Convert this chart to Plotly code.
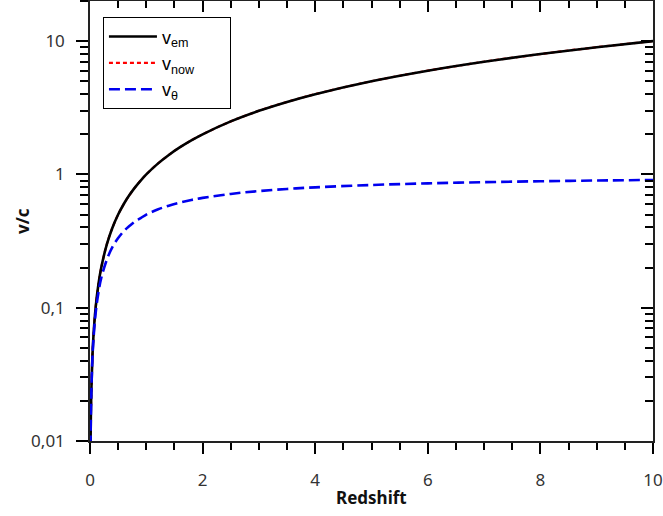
import plotly.graph_objects as go
import math

# Data
redshift = [0.003, 0.01, 0.02, 0.04, 0.06, 0.1, 0.15, 0.2, 0.3, 0.4, 0.5, 0.6, 0.7, 0.8, 0.9, 1.0, 1.2, 1.4, 1.6, 1.8, 2.0, 2.5, 3.0, 3.5, 4.0, 5.0, 6.0, 7.0, 8.0, 9.0, 10.0]
v_em = [0.003, 0.01, 0.02, 0.04, 0.06, 0.1, 0.15, 0.2, 0.3, 0.4, 0.5, 0.6, 0.7, 0.8, 0.9, 1.0, 1.2, 1.4, 1.6, 1.8, 2.0, 2.5, 3.0, 3.5, 4.0, 5.0, 6.0, 7.0, 8.0, 9.0, 10.0]
# v_now is not visible in the reference: it lies hidden beneath the v_em curve
v_now = [0.003, 0.01, 0.02, 0.04, 0.06, 0.1, 0.15, 0.2, 0.3, 0.4, 0.5, 0.6, 0.7, 0.8, 0.9, 1.0, 1.2, 1.4, 1.6, 1.8, 2.0, 2.5, 3.0, 3.5, 4.0, 5.0, 6.0, 7.0, 8.0, 9.0, 10.0]
v_theta = [0.003, 0.0099, 0.0196, 0.0385, 0.0566, 0.091, 0.13, 0.167, 0.23, 0.286, 0.333, 0.375, 0.41, 0.444, 0.47, 0.5, 0.545, 0.583, 0.615, 0.643, 0.667, 0.714, 0.75, 0.778, 0.8, 0.833, 0.857, 0.875, 0.889, 0.9, 0.909]

y_tickvals = [0.01, 0.1, 1, 10]
y_ticktext = ["0,01", "0,1", "1", "10"]
x_tickvals = [0, 2, 4, 6, 8, 10]
y_minor = [m * d for d in (0.01, 0.1, 1, 10) for m in range(2, 10) if m * d <= 20]
x_minor = [i * 0.5 for i in range(0, 21)]
x_title = "Redshift"
y_title = "v/c"

font_ticks = dict(family="Noto Sans", size=17, color="#333333")
font_title = dict(family="Noto Sans", size=17, color="#111111", weight="bold")
pad = "\u00a0" * 6

fig = go.Figure()
fig.add_trace(go.Scatter(x=redshift, y=v_now, mode="lines", name="v<sub>now</sub>" + pad,
                         legendrank=2,
                         line=dict(color="#ff0000", width=2.2, dash="4px,3px", shape="spline")))
fig.add_trace(go.Scatter(x=redshift, y=v_em, mode="lines", name="v<sub>em</sub>" + pad,
                         legendrank=1,
                         line=dict(color="black", width=2.6, shape="spline")))
fig.add_trace(go.Scatter(x=redshift, y=v_theta, mode="lines", name="v<sub>θ</sub>" + pad,
                         legendrank=3,
                         line=dict(color="#0000ee", width=2.6, dash="11px,5px", shape="spline")))
fig.add_trace(go.Scatter(x=[None], y=[None], xaxis="x2", yaxis="y2",
                         showlegend=False, hoverinfo="skip"))

yr = [-2, math.log10(20)]
common = dict(showgrid=False, zeroline=False, showline=True, linecolor="#222222",
              linewidth=1.5, tickwidth=1.5, tickcolor="black", automargin=False)
fig.update_layout(
    width=663, height=516,
    margin=dict(l=90, r=10, t=1, b=75),
    paper_bgcolor="white", plot_bgcolor="white",
    showlegend=True,
    legend=dict(x=0.023, y=0.963, xanchor="left", yanchor="top",
                bordercolor="black", borderwidth=1, bgcolor="white",
                font=dict(family="Liberation Sans", size=18, color="black"),
                itemwidth=48, tracegroupgap=0),
    xaxis=dict(range=[0, 10], tickvals=x_tickvals, ticks="outside", ticklen=11,
               tickfont=font_ticks, ticklabelstandoff=12, ticklabeloverflow="allow",
               minor=dict(tickvals=x_minor, ticks="outside", ticklen=7, tickwidth=1.5,
                          tickcolor="black", showgrid=False), **common),
    yaxis=dict(type="log", range=yr, tickvals=y_tickvals, ticktext=y_ticktext,
               ticks="outside", ticklen=12, tickfont=font_ticks, ticklabelstandoff=8,
               ticklabeloverflow="allow",
               minor=dict(tickvals=y_minor, ticks="outside", ticklen=8, tickwidth=1.5,
                          tickcolor="black", showgrid=False), **common),
    xaxis2=dict(overlaying="x", side="top", anchor="y", range=[0, 10], tickvals=x_tickvals,
                ticks="inside", ticklen=11, showticklabels=False,
                minor=dict(tickvals=x_minor, ticks="inside", ticklen=7, tickwidth=1.5,
                           tickcolor="black", showgrid=False), **common),
    yaxis2=dict(overlaying="y", side="right", anchor="x", type="log", range=yr,
                tickvals=y_tickvals, ticks="inside", ticklen=12, showticklabels=False,
                minor=dict(tickvals=y_minor, ticks="inside", ticklen=8, tickwidth=1.5,
                           tickcolor="black", showgrid=False), **common),
    annotations=[
        dict(text=x_title, xref="paper", yref="paper", x=0.5, y=-0.1295,
             xanchor="center", yanchor="middle", showarrow=False, font=font_title),
        dict(text=y_title, xref="paper", yref="paper", x=-0.1208, y=0.5,
             xanchor="center", yanchor="middle", showarrow=False, textangle=-90,
             font=font_title),
    ],
)

fig.write_html("out.html", config={"displayModeBar": False},
               post_script="document.body.style.margin='0';document.body.style.overflow='hidden';")
